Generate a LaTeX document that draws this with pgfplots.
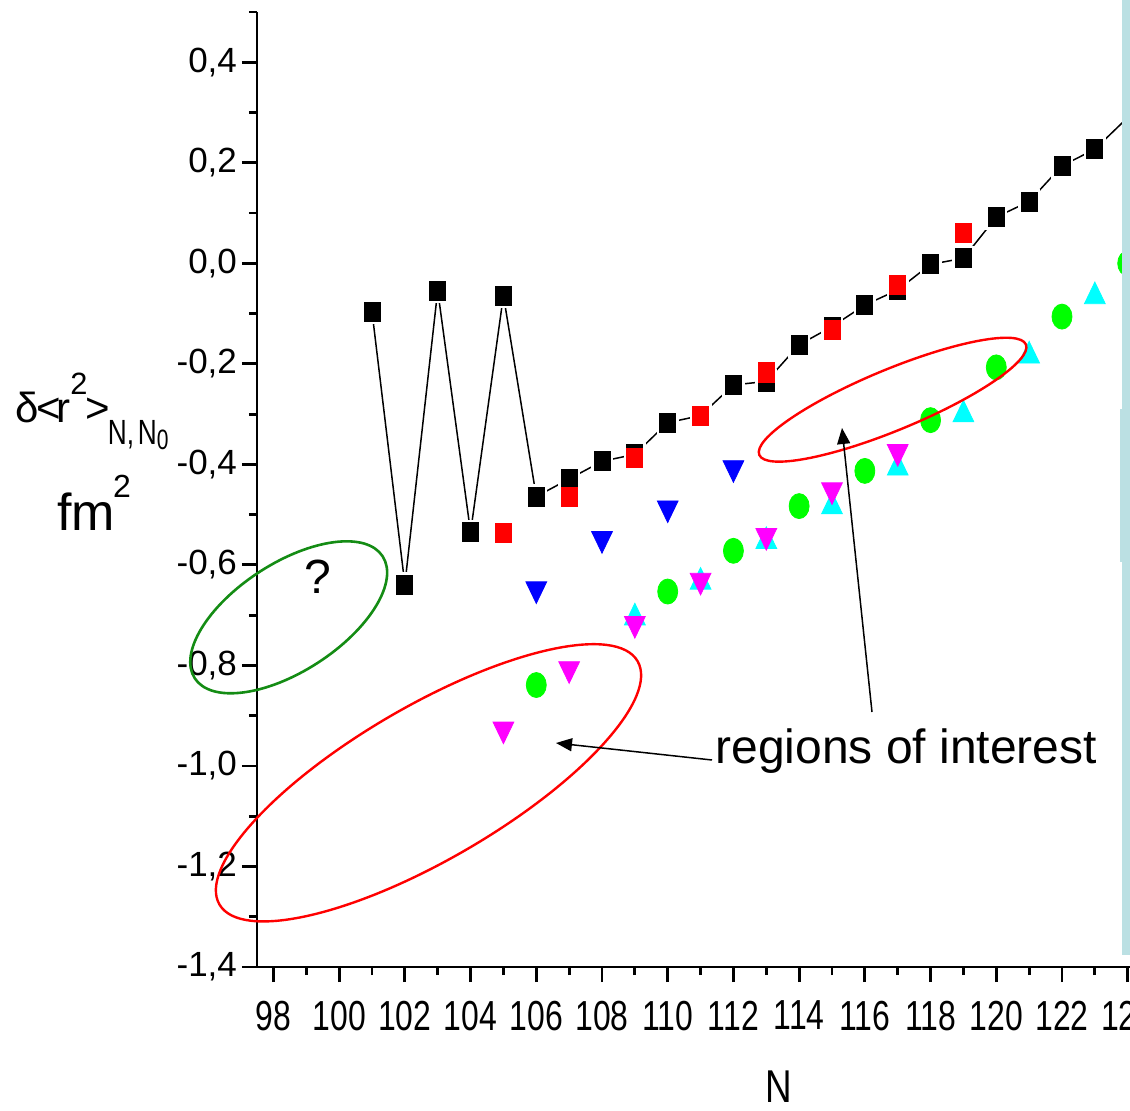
\documentclass[border=0pt]{standalone}
\usepackage{pgfplots}
\pgfplotsset{compat=1.18}
\usepackage{pgfplotstable}
\usepackage{graphicx}
\usepackage{fontspec}
\setmainfont{Liberation Sans}
\usetikzlibrary{arrows.meta,shapes.geometric}
\definecolor{barblue}{RGB}{187,224,227}
\definecolor{ellgreen}{RGB}{20,140,20}
\definecolor{pred}{RGB}{255,0,0}
\definecolor{pblue}{RGB}{0,0,255}
\definecolor{pgreen}{RGB}{0,255,0}
\definecolor{pcyan}{RGB}{0,255,255}
\definecolor{pmagenta}{RGB}{255,0,255}

\pgfplotstableread{
N y
101 -0.096
102 -0.639
103 -0.054
104 -0.535
105 -0.064
106 -0.464
107 -0.429
108 -0.394
109 -0.380
110 -0.317
111 -0.303
112 -0.242
113 -0.235
114 -0.162
115 -0.126
116 -0.083
117 -0.053
118 -0.002
119 0.010
120 0.092
121 0.123
122 0.194
123 0.227
124 0.290
}\blackdata

\pgfplotstableread{
N y
101 -0.096
102 -0.639
103 -0.054
104 -0.535
105 -0.064
106 -0.464
107 -0.429
108 -0.394
109 -0.380
110 -0.317
111 -0.303
112 -0.242
113 -0.235
114 -0.162
115 -0.126
116 -0.083
117 -0.053
118 -0.002
119 0.010
120 0.092
121 0.123
122 0.194
123 0.227
}\blackmarks

\pgfplotstableread{
N y
105 -0.537
107 -0.464
109 -0.388
111 -0.304
113 -0.217
115 -0.132
117 -0.043
119 0.060
}\reddata

\pgfplotstableread{
N y
106 -0.648
108 -0.548
110 -0.487
112 -0.407
}\bluedata

\pgfplotstableread{
N y
106 -0.839
110 -0.653
112 -0.572
114 -0.483
116 -0.413
118 -0.312
120 -0.207
122 -0.106
124 0.000
}\greendata

\pgfplotstableread{
N y
109 -0.705
111 -0.634
113 -0.553
115 -0.484
117 -0.407
119 -0.301
121 -0.184
123 -0.066
}\cyandata

\pgfplotstableread{
N y
105 -0.927
107 -0.807
109 -0.717
111 -0.631
113 -0.542
115 -0.451
117 -0.375
}\magentadata

\begin{document}
\begin{tikzpicture}
\begin{axis}[
  name=ax, at={(0,0)}, anchor=south west,
  scale only axis, width=436.5pt, height=477.5pt,
  xmin=97.5, xmax=124.07, ymin=-1.4, ymax=0.5,
  axis x line*=bottom, axis y line*=left,
  axis line style={line width=1.4pt, -},
  xtick={98,100,...,124}, minor xtick={99,101,...,123},
  ytick={-1.4,-1.2,-1,-0.8,-0.6,-0.4,-0.2,0,0.2,0.4},
  minor ytick={-1.3,-1.1,-0.9,-0.7,-0.5,-0.3,-0.1,0.1,0.3,0.5},
  tick align=outside, major tick length=7.5pt, minor tick length=4pt,
  tick style={line width=1.4pt, black},
  xticklabel={\scalebox{0.76}[1]{\pgfmathprintnumber[assume math mode=true]{\tick}}},
  xticklabel style={font=\fontsize{21}{21}\selectfont, yshift=-6pt},
  yticklabel style={font=\fontsize{17.5}{17.5}\selectfont, xshift=1pt,
    /pgf/number format/.cd, fixed, fixed zerofill, precision=1, use comma, assume math mode=true},
]
\addplot[black, line width=0.75pt, no markers] table[x=N,y=y]{\blackdata};
\addplot[only marks, mark=square*, mark size=5.3pt, white, mark options={yscale=1.15}] table[x=N,y=y]{\blackmarks};
\addplot[only marks, mark=square*, mark size=4pt, black, mark options={yscale=1.19}] table[x=N,y=y]{\blackmarks};
\addplot[only marks, mark=square*, mark size=4pt, pred, mark options={yscale=1.19}] table[x=N,y=y]{\reddata};
\addplot[only marks, mark=triangle*, mark size=6pt, pblue, mark options={rotate=180, yscale=1.2}] table[x=N,y=y]{\bluedata};
\addplot[only marks, mark=*, mark size=6.25pt, pgreen, mark options={xscale=0.8}] table[x=N,y=y]{\greendata};
\addplot[only marks, mark=triangle*, mark size=6pt, pcyan, mark options={yscale=1.2}] table[x=N,y=y]{\cyandata};
\addplot[only marks, mark=triangle*, mark size=6pt, pmagenta, mark options={rotate=180, yscale=1.2}] table[x=N,y=y]{\magentadata};
\end{axis}
\begin{scope}[shift={(-128.5pt,483.5pt)}, x=0.5pt, y=-0.5pt]
  \fill[barblue] (1122,0) rectangle (1140,955);
  \fill[barblue] (1119.5,409) rectangle (1123,562);
  \node[draw=ellgreen, line width=1.3pt, ellipse, rotate=33, minimum width=112pt, minimum height=54pt, inner sep=0pt] at (288.7,617.3) {};
  \node[draw=pred, line width=1.2pt, ellipse, rotate=30.2, minimum width=241.9pt, minimum height=76.8pt, inner sep=0pt] at (428.5,782.8) {};
  \node[draw=pred, line width=1.2pt, ellipse, rotate=22.5, minimum width=144.3pt, minimum height=30.4pt, inner sep=0pt] at (892.6,399.7) {};
  \draw[line width=0.75pt, -{Triangle[length=8pt,width=6.5pt]}] (712,760) -- (556,743);
  \draw[line width=0.75pt, -{Triangle[length=8pt,width=6.5pt]}] (872,712) -- (842,428);
  \node[anchor=base west, inner sep=0pt, font=\fontsize{24}{24}\selectfont] at (715,763) {regions of interest};
  \node[anchor=base, inner sep=0pt, font=\fontsize{24}{24}\selectfont] at (317.5,593) {?};
  \node[anchor=base, inner sep=0pt, font=\fontsize{23}{23}\selectfont] at (778.5,1102) {\scalebox{0.8}[1]{N}};
  \node[anchor=base west, inner sep=0pt, font=\fontsize{21}{21}\selectfont] at (15,423)
    {δ\kern-1pt<\kern-2.5pt r\raisebox{14pt}{\fontsize{15.4}{15}\selectfont 2}\kern-1pt>\kern-1pt\raisebox{-11pt}{\fontsize{17.5}{17}\selectfont\scalebox{0.75}[1]{N,\kern2.5pt N\raisebox{-2.5pt}{\fontsize{14}{14}\selectfont 0}}}};
  \node[anchor=base west, inner sep=0pt, font=\fontsize{26}{26}\selectfont] at (57,530)
    {fm\kern-1pt\raisebox{16pt}{\fontsize{16}{16}\selectfont 2}};
  \pgfresetboundingbox
  \path[use as bounding box] (0,0) rectangle (1130,1110);
\end{scope}
\end{tikzpicture}
\end{document}
